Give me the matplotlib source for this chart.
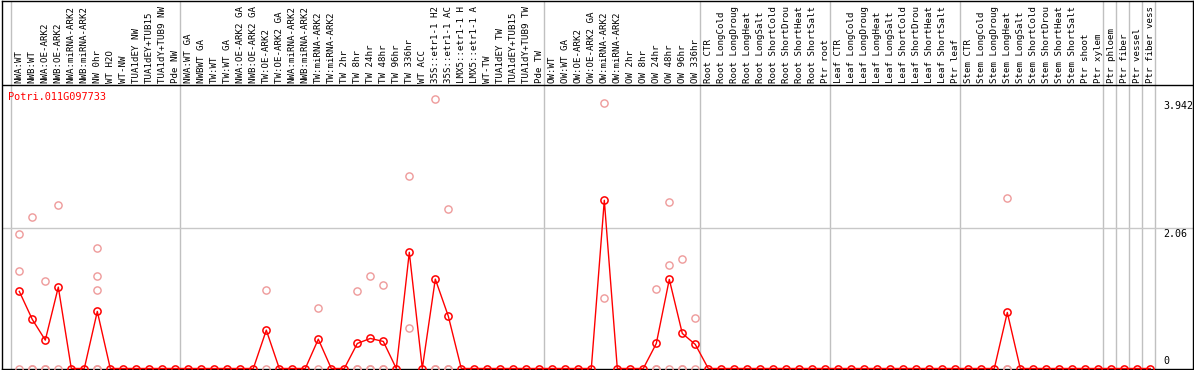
import matplotlib
matplotlib.use("Agg")
import matplotlib.pyplot as plt

# ---------------- data ----------------
labels = [
    "NWA:WT", "NWB:WT", "NWA:OE-ARK2", "NWB:OE-ARK2", "NWA:miRNA-ARK2", "NWB:miRNA-ARK2",
    "NW 0hr", "WT H2O", "WT-NW", "TUA1dEY NW", "TUA1dEY+TUB15", "TUA1dY+TUB9 NW", "Pde NW",
    "NWA:WT GA", "NWBWT GA", "TW:WT", "TW:WT GA", "NWA:OE-ARK2 GA", "NWB:OE-ARK2 GA",
    "TW:OE-ARK2", "TW:OE-ARK2 GA", "NWA:miRNA-ARK2", "NWB:miRNA-ARK2", "TW:miRNA-ARK2",
    "TW:miRNA-ARK2", "TW 2hr", "TW 8hr", "TW 24hr", "TW 48hr", "TW 96hr", "TW 336hr",
    "WT ACC", "35S::etr1-1 H2", "35S::etr1-1 AC", "LMX5::etr1-1 H", "LMX5::etr1-1 A",
    "WT-TW", "TUA1dEY TW", "TUA1dEY+TUB15", "TUA1dY+TUB9 TW", "Pde TW",
    "OW:WT", "OW:WT GA", "OW:OE-ARK2", "OW:OE-ARK2 GA", "OW:miRNA-ARK2", "OW:miRNA-ARK2",
    "OW 2hr", "OW 8hr", "OW 24hr", "OW 48hr", "OW 96hr", "OW 336hr",
    "Root CTR", "Root LongCold", "Root LongDroug", "Root LongHeat", "Root LongSalt",
    "Root ShortCold", "Root ShortDrou", "Root ShortHeat", "Root ShortSalt", "Ptr root",
    "Leaf CTR", "Leaf LongCold", "Leaf LongDroug", "Leaf LongHeat", "Leaf LongSalt",
    "Leaf ShortCold", "Leaf ShortDrou", "Leaf ShortHeat", "Leaf ShortSalt", "Ptr leaf",
    "Stem CTR", "Stem LongCold", "Stem LongDroug", "Stem LongHeat", "Stem LongSalt",
    "Stem ShortCold", "Stem ShortDrou", "Stem ShortHeat", "Stem ShortSalt", "Ptr shoot",
    "Ptr xylem", "Ptr phloem", "Ptr fiber", "Ptr vessel", "Ptr fiber vess",
]

group_sizes = [13, 28, 12, 10, 10, 11, 1, 1, 1, 1]

mean_values = [
    1.128, 0.718, 0.415, 1.191, 0, 0, 0.835, 0, 0, 0, 0, 0, 0,
    0, 0, 0, 0, 0, 0, 0.561, 0, 0, 0, 0.429, 0, 0, 0.366, 0.440, 0.396, 0,
    1.700, 0, 1.308, 0.766, 0, 0, 0, 0, 0, 0, 0,
    0, 0, 0, 0, 2.461, 0, 0, 0, 0.366, 1.304, 0.513, 0.352,
    0, 0, 0, 0, 0, 0, 0, 0, 0, 0,
    0, 0, 0, 0, 0, 0, 0, 0, 0, 0,
    0, 0, 0, 0.820, 0, 0, 0, 0, 0, 0,
    0, 0, 0, 0, 0,
]

rep_index = [0, 0, 0, 1, 1, 1, 2, 2, 2, 3, 3,
             6, 6, 6, 6, 6, 19, 19, 23, 23, 26, 26, 26, 27, 27, 27,
             28, 28, 28, 30, 30, 32, 32, 32, 33, 33, 33,
             45, 45, 49, 49, 49, 50, 50, 50, 51, 51, 51, 52, 52,
             76, 76, 76]
rep_values = [1.963, 1.426, 0, 2.212, 0, 0, 1.279, 0, 0, 2.388, 0,
              1.758, 1.348, 1.147, 0, 0, 1.147, 0, 0.883, 0, 1.133, 0, 0, 1.348, 0, 0,
              1.220, 0, 0, 2.816, 0.595, 3.942, 0, 0, 2.334, 0, 0,
              3.883, 1.026, 1.157, 0, 0, 2.432, 1.509, 0, 1.597, 0, 0, 0.733, 0,
              2.490, 0, 0]

gene_name = "Potri.011G097733"
y_ticks = [0, 2.06, 3.942]
y_tick_labels = ["0", "2.06", "3.942"]

# ---------------- figure ----------------
W, H, DPI = 1194, 370, 100
fig = plt.figure(figsize=(W / DPI, H / DPI), dpi=DPI)
ax = fig.add_axes([1.5 / W, 1.0 / H, 1191.5 / W, 368.5 / H])

px_per_unit = 68.35         # vertical pixels per data unit
x0_px, dx_px = 19.3, 13.0    # first point pixel and spacing

def ypix_to_val(ypix_from_top):
    return (368.5 - ypix_from_top) / px_per_unit

ax.set_xlim((1.5 - x0_px) / dx_px, (1193 - x0_px) / dx_px)
ax.set_ylim(ypix_to_val(369.0), ypix_to_val(0.5))
ax.set_xticks([])
ax.set_yticks([])
for s in ax.spines.values():
    s.set_color("black")
    s.set_linewidth(1.0)

mono = "DejaVu Sans Mono"
sep_y = ypix_to_val(85)

# group separators
starts = [0]
for g in group_sizes:
    starts.append(starts[-1] + g)
for st in starts:
    ax.axvline(st - 0.62, color="#c0c0c0", lw=1.0, zorder=1)

# separator between labels and plot
ax.axhline(sep_y, color="black", lw=1.0, zorder=5)

# horizontal reference line at middle tick
ax.axhline(y_ticks[1], color="#c8c8c8", lw=1.0, zorder=1)

# sample labels
label_y = ypix_to_val(83)
for i, lab in enumerate(labels):
    ax.text(i, label_y, lab, rotation=90, ha="center", va="bottom",
            fontsize=6.6, family=mono, color="black", zorder=6)

# gene name
ax.text((8 - x0_px) / dx_px, ypix_to_val(97), gene_name, color="red",
        fontsize=7.4, family=mono, ha="left", va="center", zorder=6)

# right-side value labels
lab_x = (1163 - x0_px) / dx_px
for v, t in zip(y_ticks, y_tick_labels):
    va = "bottom" if v == 0 else "top"
    yy = v + (3 / px_per_unit if v == 0 else -1.5 / px_per_unit)
    ax.text(lab_x, yy, t, fontsize=7.2, family=mono, ha="left", va=va,
            color="black", zorder=6)

# replicates
ax.plot(rep_index, rep_values, linestyle="none", marker="o", ms=5.2,
        mfc="none", mec="#ee9a9a", mew=1.0, zorder=3, clip_on=False)

# mean line + markers
xs = list(range(len(mean_values)))
ax.plot(xs, mean_values, color="red", lw=1.0, zorder=4, clip_on=False)
ax.plot(xs, mean_values, linestyle="none", marker="o", ms=5.2,
        mfc="none", mec="red", mew=1.1, zorder=4, clip_on=False)

fig.savefig("out.png", dpi=DPI)
